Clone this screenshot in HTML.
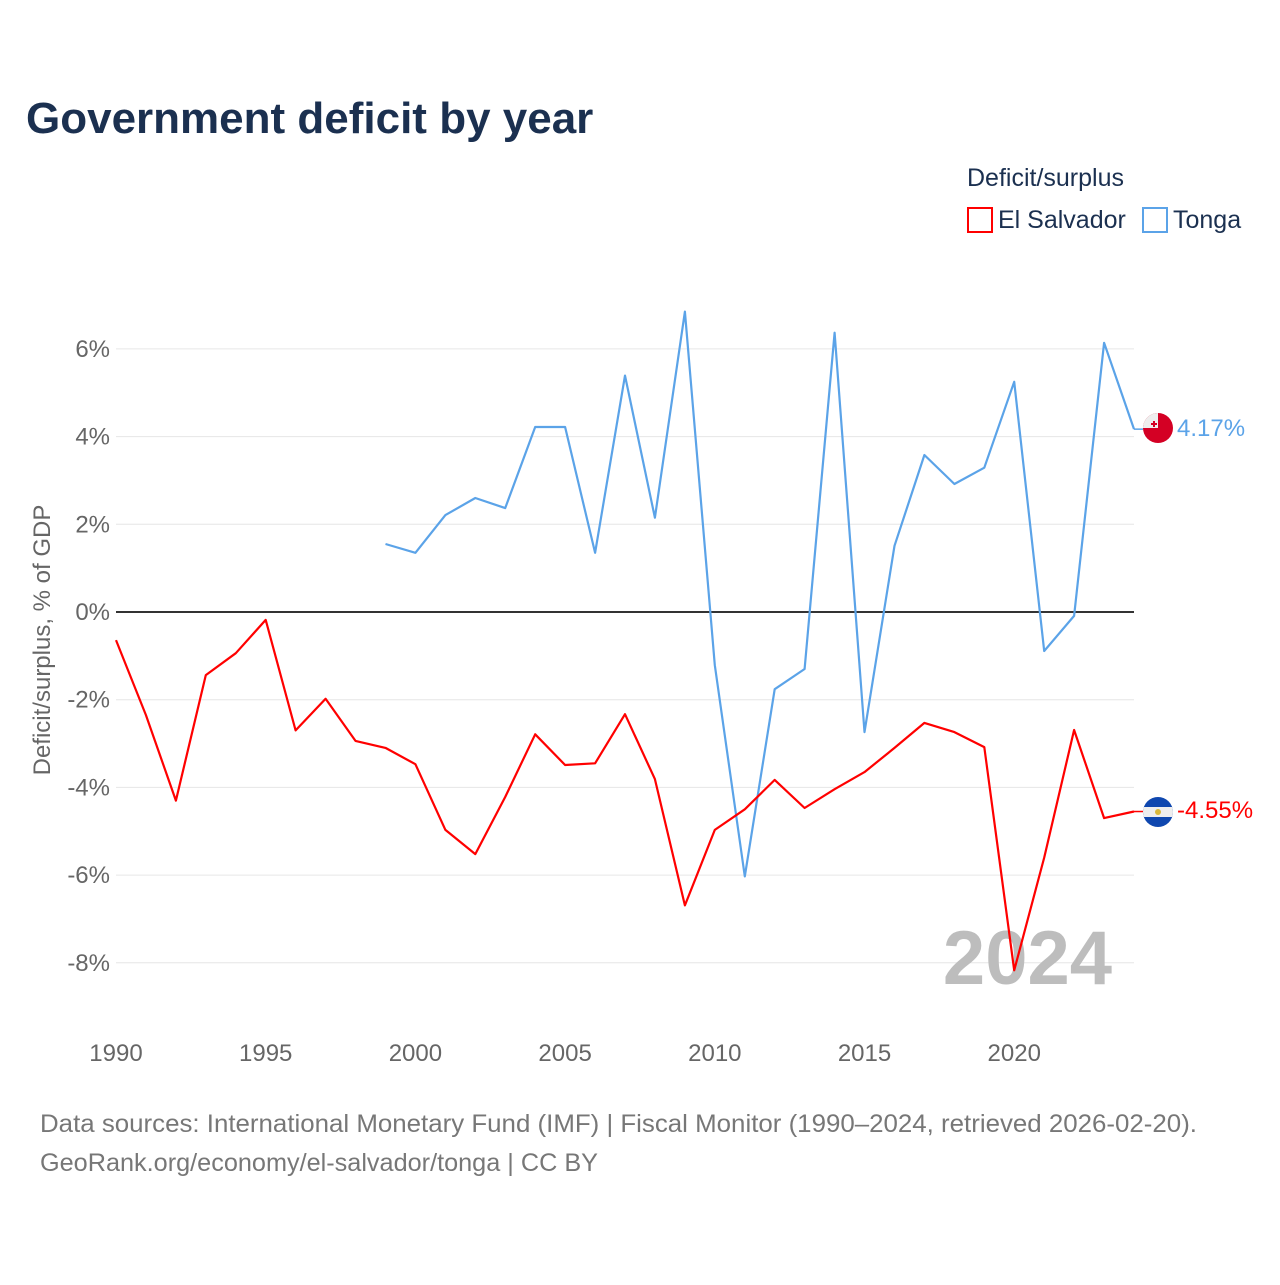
<!DOCTYPE html>
<html><head><meta charset="utf-8"><style>
body{margin:0;background:#fff;font-family:"Liberation Sans",sans-serif;}
</style></head><body>
<svg width="1280" height="1280" viewBox="0 0 1280 1280" xmlns="http://www.w3.org/2000/svg">
<text x="26" y="133" font-size="44" font-weight="bold" fill="#1b3050">Government deficit by year</text>
<g>
<text x="967" y="186" font-size="25" fill="#1b3050">Deficit/surplus</text>
<g><rect x="968" y="208" width="24" height="24" fill="none" stroke="#ff0000" stroke-width="2"/><text x="998" y="228" font-size="25" fill="#1b3050">El Salvador</text></g>
<g><rect x="1143" y="208" width="24" height="24" fill="none" stroke="#5ba3e8" stroke-width="2"/><text x="1173" y="228" font-size="25" fill="#1b3050">Tonga</text></g>
</g>
<g id="grid"></g>
<g id="yt"></g>
<g id="xt"></g>
<text transform="translate(50,640) rotate(-90)" text-anchor="middle" font-size="24" fill="#666">Deficit/surplus, % of GDP</text>
<text x="1112" y="984" text-anchor="end" font-size="76" font-weight="bold" fill="#bdbdbd">2024</text>
<g id="series"></g>
<g><circle cx="1158" cy="428" r="15" fill="#d40024"/><path d="M1143,428 A15,15 0 0 1 1158,413 L1158,428 Z" fill="#eee"/><rect x="1150" y="421" width="7" height="7" fill="#eee"/><path d="M1154,421v6M1151,424h6" stroke="#d40024" stroke-width="2"/></g>
<g><clipPath id="c"><circle cx="1158" cy="812" r="15"/></clipPath><g clip-path="url(#c)"><rect x="1143" y="797" width="30" height="30" fill="#0f47af"/><rect x="1143" y="807" width="30" height="10" fill="#eee"/><circle cx="1158" cy="812" r="3" fill="#d9b83a"/></g></g>
<text x="1177" y="436" font-size="24" fill="#5ba3e8">4.17%</text>
<text x="1177" y="818" font-size="24" fill="#ff0000">-4.55%</text>
<text x="40" y="1132" font-size="25" fill="#777" textLength="1157" lengthAdjust="spacingAndGlyphs">Data sources: International Monetary Fund (IMF) | Fiscal Monitor (1990–2024, retrieved 2026-02-20).</text>
<text x="40" y="1171" font-size="25" fill="#777" textLength="558" lengthAdjust="spacingAndGlyphs">GeoRank.org/economy/el-salvador/tonga | CC BY</text>
</svg>
<script>
const years=[1990,1991,1992,1993,1994,1995,1996,1997,1998,1999,2000,2001,2002,2003,2004,2005,2006,2007,2008,2009,2010,2011,2012,2013,2014,2015,2016,2017,2018,2019,2020,2021,2022,2023,2024];
const elSalvador=[-0.64,-2.35,-4.3,-1.44,-0.94,-0.18,-2.7,-1.98,-2.94,-3.1,-3.47,-4.97,-5.52,-4.22,-2.79,-3.49,-3.45,-2.33,-3.81,-6.69,-4.97,-4.5,-3.83,-4.47,-4.04,-3.65,-3.1,-2.53,-2.74,-3.08,-8.17,-5.6,-2.69,-4.7,-4.55];
const tonga=[null,null,null,null,null,null,null,null,null,1.55,1.35,2.21,2.6,2.37,4.22,4.22,1.35,5.39,2.15,6.85,-1.21,-6.03,-1.76,-1.3,6.37,-2.74,1.51,3.58,2.92,3.29,5.25,-0.89,-0.09,6.14,4.17];
const yTicks=[6,4,2,0,-2,-4,-6,-8];
const xTicks=[1990,1995,2000,2005,2010,2015,2020];
const NS="http://www.w3.org/2000/svg";
const X=y=>116+(y-1990)*(1134-116)/34;
const Y=v=>612-v*43.85;
function mk(t,a,p){const e=document.createElementNS(NS,t);for(const k in a)e.setAttribute(k,a[k]);p.appendChild(e);return e;}
const grid=document.getElementById('grid'),yt=document.getElementById('yt'),xt=document.getElementById('xt'),ser=document.getElementById('series');
yTicks.forEach(v=>{
 const l=mk('line',{x1:116,x2:1134,y1:Y(v),y2:Y(v),stroke:v===0?'#333':'#e6e6e6','stroke-width':v===0?2:1},grid);
 
 
 const t=mk('text',{x:110,y:Y(v)+8,'text-anchor':'end','font-size':24,fill:'#666'},yt);
 t.textContent=v+'%';
 
 
});
xTicks.forEach(v=>{
 const t=mk('text',{x:X(v),y:1061,'text-anchor':'middle','font-size':24,fill:'#666'},xt);
 t.textContent=v;
 
 
});
function line(vals,col,name){
 let d='',m=true;
 vals.forEach((v,i)=>{if(v===null){m=true;return;}d+=(m?'M':'L')+X(years[i]).toFixed(1)+','+Y(v).toFixed(1);m=false;});
 const p=mk('path',{d:d,fill:'none',stroke:col,'stroke-width':2.2,'stroke-linejoin':'round'},ser);
 
 
 const last=vals[vals.length-1];
 const c=mk('line',{x1:X(2024),x2:1143,y1:Y(last),y2:Y(last),stroke:col,'stroke-width':1.5},ser);
 
 
}
line(tonga,'#5ba3e8','tonga-line');
line(elSalvador,'#ff0000','el-salvador-line');
</script>
</body></html>
